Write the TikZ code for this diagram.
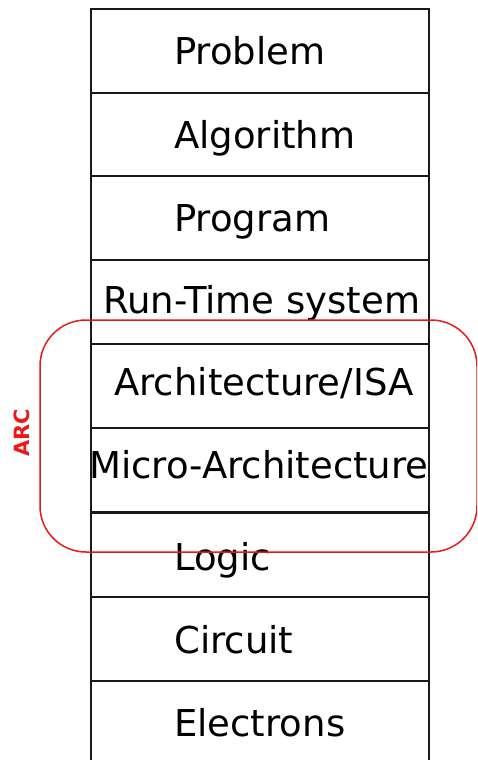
\documentclass[tikz,border=0pt]{standalone}
\usepackage{fontspec}
\setmainfont{DejaVu Sans}
\definecolor{arcred}{RGB}{235,25,25}
\begin{document}
\begin{tikzpicture}[x=1pt,y=-1pt,
  layer/.style={draw=black!90, line width=1.9pt, rectangle, minimum width=338pt, minimum height=84pt, inner sep=0pt, anchor=north west},
  lbl/.style={anchor=base west, inner sep=0pt, font=\fontsize{37}{44}\selectfont},
  arcbox/.style={draw=arcred, line width=1.5pt, rounded corners=46pt}]
\useasboundingbox (0,0) rectangle (477,760);
\clip (0,0) rectangle (477,760);
\node[layer] (b1) at (90,8) {};
\node[layer] (b2) at (90,91.5) {};
\node[layer] (b3) at (90,175) {};
\node[layer] (b4) at (90,258.5) {};
\node[layer] (b5) at (90,343) {};
\node[layer] (b6) at (90,427) {};
\node[layer] (b7) at (90,512) {};
\node[layer] (b8) at (90,596) {};
\node[layer, minimum height=100pt] (b9) at (90,680) {};
\node[lbl] (t1) at (174,65) {Problem};
\node[lbl] (t2) at (174,148) {Algorithm};
\node[lbl] (t3) at (174,231) {Program};
\node[lbl] (t4) at (103,313) {Run-Time system};
\node[lbl] (t5) at (114,395) {Architecture/ISA};
\node[lbl] (t6) at (89,478) {Micro-Architecture};
\node[lbl] (t7) at (174,570) {Logic};
\node[lbl] (t8) at (174,653) {Circuit};
\node[lbl] (t9) at (174,736) {Electrons};
\draw[arcbox] (40,320) rectangle (477,552);
\node[text=arcred, font=\fontsize{21}{24}\bfseries\selectfont, rotate=90, inner sep=0pt] (arc) at (22,433) {ARC};
\end{tikzpicture}
\end{document}
